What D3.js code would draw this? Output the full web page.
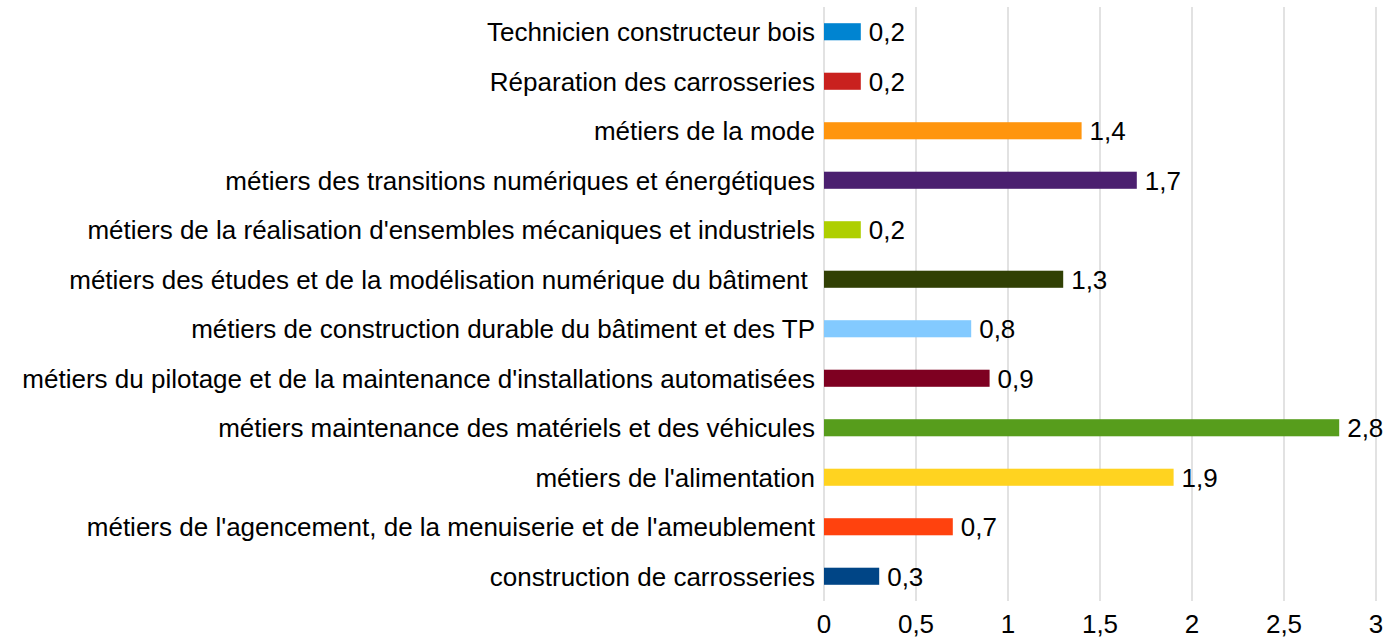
<!DOCTYPE html>
<html>
<head>
<meta charset="utf-8">
<script src="https://cdn.jsdelivr.net/npm/d3@7"></script>
<style>
  body { margin: 0; background: #fff; }
  svg text { font-family: "Liberation Sans", Arial, sans-serif; fill: #000; white-space: pre; }
</style>
</head>
<body>
<svg id="chart"></svg>
<script>
// categories top to bottom as in the picture
const categories = [
  "Technicien constructeur bois",
  "Réparation des carrosseries",
  "métiers de la mode",
  "métiers des transitions numériques et énergétiques",
  "métiers de la réalisation d'ensembles mécaniques et industriels",
  "métiers des études et de la modélisation numérique du bâtiment ",
  "métiers de construction durable du bâtiment et des TP",
  "métiers du pilotage et de la maintenance d'installations automatisées",
  "métiers maintenance des matériels et des véhicules",
  "métiers de l'alimentation",
  "métiers de l'agencement, de la menuiserie et de l'ameublement",
  "construction de carrosseries"
];
const values = [0.2, 0.2, 1.4, 1.7, 0.2, 1.3, 0.8, 0.9, 2.8, 1.9, 0.7, 0.3];
const colors = ["#0084d1", "#c9211e", "#ff950e", "#4b1f6f", "#aecf00", "#314004",
                "#83caff", "#7e0021", "#579d1c", "#ffd320", "#ff420e", "#004586"];
const xTicks = [0, 0.5, 1, 1.5, 2, 2.5, 3];

const W = 1389, H = 638;
const margin = {top: 7, right: 13, bottom: 37, left: 824};
const width = W - margin.left - margin.right;
const height = H - margin.top - margin.bottom;
const fmt = d => String(d).replace('.', ',');

const svg = d3.select('#chart').attr('width', W).attr('height', H);
const g = svg.append('g').attr('transform', 'translate(' + margin.left + ',' + margin.top + ')');

const x = d3.scaleLinear().domain([0, 3]).range([0, width]);
const y = d3.scaleBand().domain(categories).range([0, height]).paddingInner(0.655).paddingOuter(0.3275);

// grid
g.selectAll('line.grid')
    .data(xTicks)
  .enter().append('line')
    .attr('class', 'grid')
    .attr('x1', d => x(d)).attr('x2', d => x(d))
    .attr('y1', 0).attr('y2', height)
    .attr('stroke', '#d9d9d9')
    .attr('stroke-width', 1.5);

// x tick labels
g.selectAll('text.tick')
    .data(xTicks)
  .enter().append('text')
    .attr('class', 'tick')
    .attr('x', d => x(d))
    .attr('y', height + 32)
    .attr('text-anchor', 'middle')
    .style('font-size', '26px')
    .text(fmt);

// bars
g.selectAll('rect.bar')
    .data(values)
  .enter().append('rect')
    .attr('class', 'bar')
    .attr('x', x(0))
    .attr('y', (d, i) => y(categories[i]))
    .attr('width', d => x(d) - x(0))
    .attr('height', y.bandwidth())
    .attr('fill', (d, i) => colors[i]);

// value labels
g.selectAll('text.val')
    .data(values)
  .enter().append('text')
    .attr('class', 'val')
    .attr('x', d => x(d) + 8)
    .attr('y', (d, i) => y(categories[i]) + y.bandwidth() / 2)
    .attr('dy', '0.36em')
    .style('font-size', '26px')
    .text(fmt);

// category labels
g.selectAll('text.cat')
    .data(categories)
  .enter().append('text')
    .attr('class', 'cat')
    .attr('x', -9)
    .attr('y', d => y(d) + y.bandwidth() / 2)
    .attr('dy', '0.36em')
    .attr('text-anchor', 'end')
    .style('font-size', '26px')
    .text(d => d);
</script>
</body>
</html>
